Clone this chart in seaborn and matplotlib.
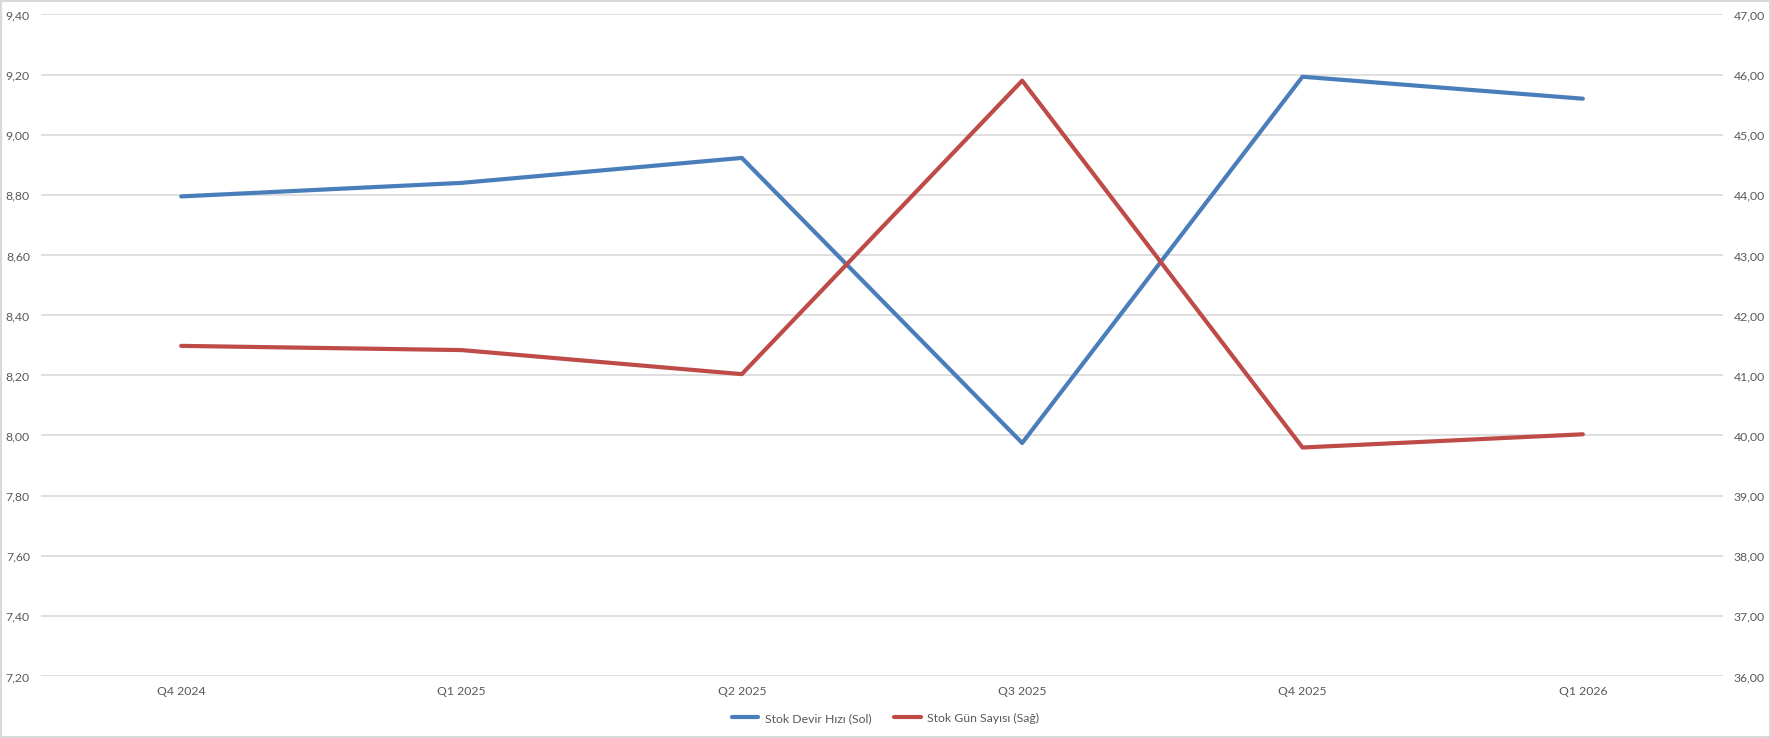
import matplotlib
matplotlib.use("Agg")
import matplotlib.pyplot as plt
import matplotlib.patches as mpatches
from matplotlib.ticker import FuncFormatter, MultipleLocator
import seaborn as sns
import pandas as pd

# veriler
ceyrekler = ["Q4 2024", "Q1 2025", "Q2 2025", "Q3 2025", "Q4 2025", "Q1 2026"]
devir_hizi = [8.795, 8.840, 8.923, 7.975, 9.193, 9.120]
gun_sayisi = [41.49, 41.42, 41.02, 45.90, 39.80, 40.02]

df = pd.DataFrame({"ceyrek": ceyrekler, "devir": devir_hizi, "gun": gun_sayisi})

sns.set_style("white")
plt.rcParams["font.family"] = ["Lato", "DejaVu Sans"]

MAVI = "#4A7EBB"
KIRMIZI = "#BE4B48"
GRI_YAZI = "#595959"
GRI_CIZGI = "#D9D9D9"
YAZI_BOYU = 8.8

fig = plt.figure(figsize=(17.71, 7.385), dpi=100)
ax = fig.add_axes([41 / 1771, 1 - 677 / 739, (1723 - 41) / 1771, (677 - 15) / 739])
ax2 = ax.twinx()

sns.lineplot(data=df, x="ceyrek", y="devir", ax=ax, color=MAVI, linewidth=3,
             sort=False, label="Stok Devir Hızı (Sol)", legend=False)
sns.lineplot(data=df, x="ceyrek", y="gun", ax=ax2, color=KIRMIZI, linewidth=3,
             sort=False, label="Stok Gün Sayısı (Sağ)", legend=False)

ax.set_xlim(-0.5, len(ceyrekler) - 0.5)
ax.set_ylim(7.2, 9.4)
ax2.set_ylim(36, 47)
ax.yaxis.set_major_locator(MultipleLocator(0.2))
ax2.yaxis.set_major_locator(MultipleLocator(1))

virgul = FuncFormatter(lambda v, p: f"{v:.2f}".replace(".", ","))
ax.yaxis.set_major_formatter(virgul)
ax2.yaxis.set_major_formatter(virgul)

ax.grid(axis="y", color=GRI_CIZGI, linewidth=1.2)
ax.set_axisbelow(True)
ax.set_xlabel("")
ax.set_ylabel("")
ax2.set_ylabel("")

for a in (ax, ax2):
    for s in a.spines.values():
        s.set_visible(False)
    a.tick_params(length=0, labelsize=YAZI_BOYU, labelcolor=GRI_YAZI)
ax.tick_params(axis="y", pad=8)
ax2.tick_params(axis="y", pad=7.5)
ax.tick_params(axis="x", pad=7)

# lejant
h1, l1 = ax.get_legend_handles_labels()
h2, l2 = ax2.get_legend_handles_labels()
fig.legend(h1 + h2, l1 + l2, loc="center", bbox_to_anchor=(0.5, 1 - 719 / 739),
           ncol=2, frameon=False, fontsize=YAZI_BOYU, labelcolor=GRI_YAZI,
           handlelength=2.2, columnspacing=1.8, handletextpad=0.55)

# dış çerçeve
fig.patches.append(mpatches.Rectangle((0.0008, 0.0015), 0.9984, 0.997,
                                      transform=fig.transFigure, fill=False,
                                      edgecolor=GRI_CIZGI, linewidth=1.5))

fig.savefig("out.png", dpi=100, facecolor="white")
